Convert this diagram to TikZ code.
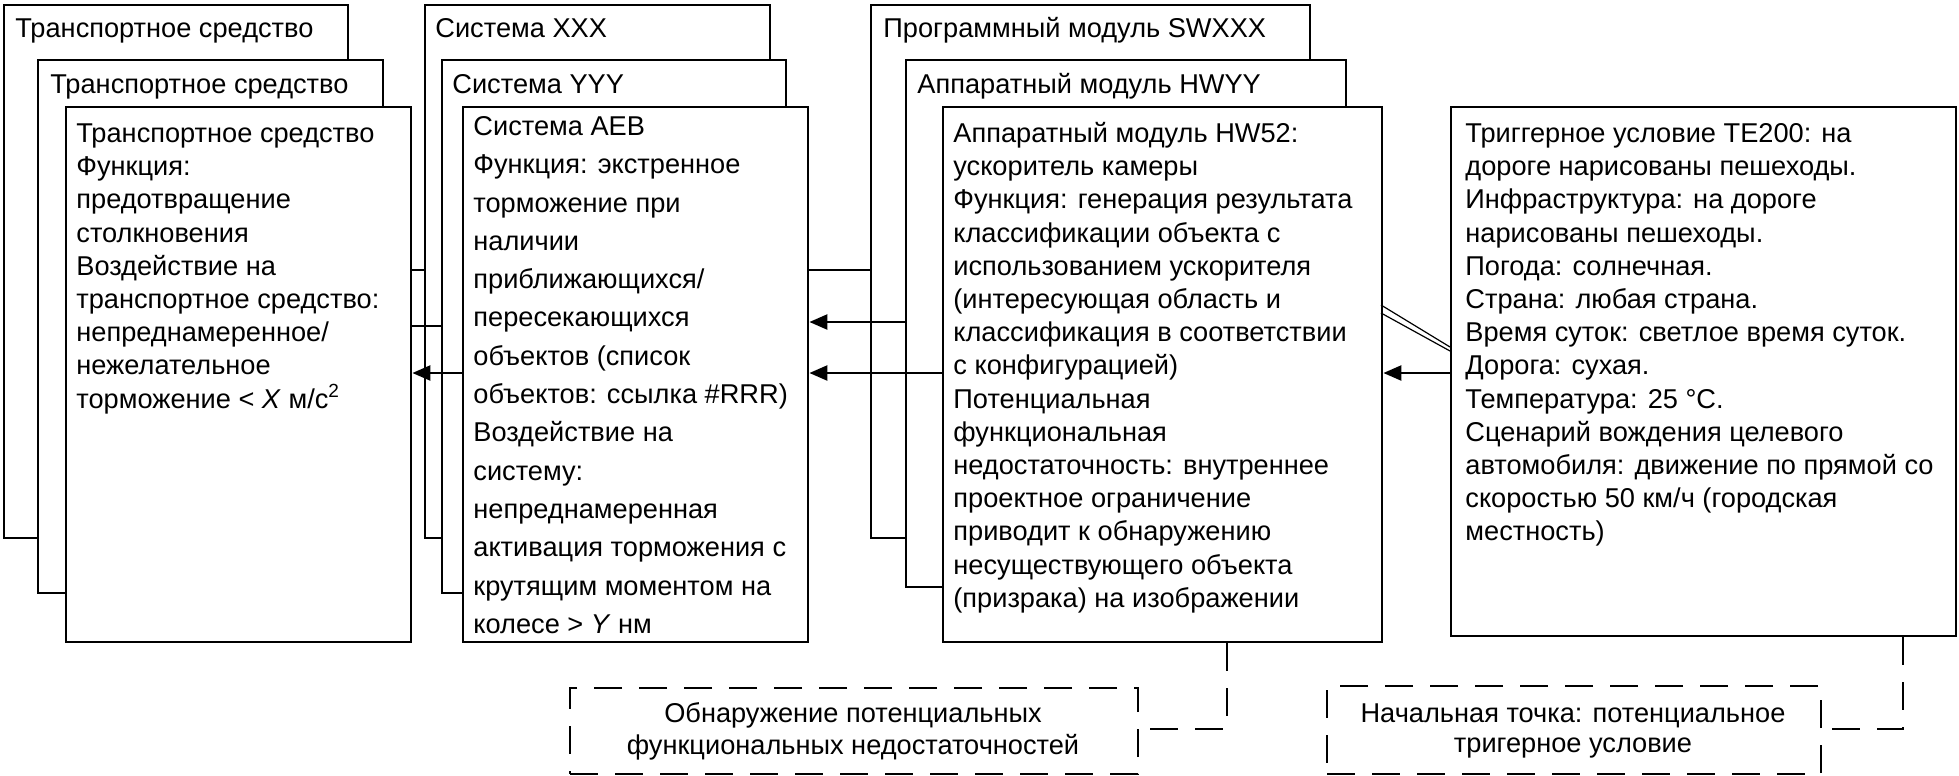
\documentclass[tikz,border=0pt]{standalone}
\usepackage{fontspec}
\setmainfont{Liberation Sans}
\usetikzlibrary{arrows.meta}
\begin{document}
\begin{tikzpicture}[x=0.5pt,y=-0.5pt,
  box/.style={draw, fill=white, line width=1.2pt, inner sep=0pt, anchor=north west},
  dbox/.style={draw, line width=1.2pt, inner sep=0pt, anchor=north west, dash pattern=on 14pt off 8.5pt},
  ttl/.style={anchor=base west, inner sep=0pt, font=\fontsize{13.6}{16.6}\selectfont},
  body/.style={anchor=north west, inner sep=0pt, align=left, font=\fontsize{13.6}{16.6}\selectfont},
  bodywide/.style={anchor=north west, inner sep=0pt, align=left, font=\fontsize{13.6}{19.15}\selectfont},
  note/.style={anchor=north, inner sep=0pt, align=center, font=\fontsize{13.6}{16}\selectfont},
  conn/.style={line width=1.2pt},
  arr/.style={line width=1.2pt, -{Triangle[length=9pt,width=7.5pt]}},
  dconn/.style={line width=1.2pt, dash pattern=on 14pt off 8.5pt},
  thin/.style={line width=0.6pt}]
\useasboundingbox (0,0) rectangle (1959,776);
\newcommand{\stu}{\rule{0pt}{12pt}}
% column 1
\node[box, minimum width=172pt, minimum height=266.5pt] (c1back) at (3,4) {};
\node[ttl] (c1backt) at (15,38) {Транспортное средство};
\node[box, minimum width=172.5pt, minimum height=266.5pt] (c1mid) at (37,59) {};
\node[ttl] (c1midt) at (50,93) {Транспортное средство};
\node[box, minimum width=172.5pt, minimum height=267.5pt] (c1front) at (65,106) {};
\node[body] (c1text) at (76,118) {\stu Транспортное средство\\Функция:\\предотвращение\\столкновения\\Воздействие на\\транспортное средство:\\непреднамеренное/\\нежелательное\\торможение < \textit{X} м/с\textsuperscript{2}};
% column 2
\node[box, minimum width=172.5pt, minimum height=266.5pt] (c2back) at (424,4) {};
\node[ttl] (c2backt) at (435,38) {Система XXX};
\node[box, minimum width=172pt, minimum height=266.5pt] (c2mid) at (441,59) {};
\node[ttl] (c2midt) at (452,93) {Система YYY};
\node[box, minimum width=172.5pt, minimum height=267.5pt] (c2front) at (462,106) {};
\node[bodywide] (c2text) at (473,111) {\stu Система AEB\\Функция: экстренное\\торможение при\\наличии\\приближающихся/\\пересекающихся\\объектов (список\\объектов: ссылка \#RRR)\\Воздействие на\\систему:\\непреднамеренная\\активация торможения с\\крутящим моментом на\\колесе > \textit{Y} нм};
% column 3
\node[box, minimum width=219.5pt, minimum height=266.5pt] (c3back) at (870,4) {};
\node[ttl] (c3backt) at (883,38) {Программный модуль SWXXX};
\node[box, minimum width=220pt, minimum height=263.5pt] (c3mid) at (905,59) {};
\node[ttl] (c3midt) at (917,93) {Аппаратный модуль HWYY};
\node[box, minimum width=219.5pt, minimum height=267.5pt] (c3front) at (942,106) {};
\node[body] (c3text) at (953,118) {\stu Аппаратный модуль HW52:\\ускоритель камеры\\Функция: генерация результата\\классификации объекта с\\использованием ускорителя\\(интересующая область и\\классификация в соответствии\\с конфигурацией)\\Потенциальная\\функциональная\\недостаточность: внутреннее\\проектное ограничение\\приводит к обнаружению\\несуществующего объекта\\(призрака) на изображении};
% column 4
\node[box, minimum width=252.5pt, minimum height=264.5pt] (trig) at (1450,106) {};
\node[body] (trigtext) at (1465,118) {\stu Триггерное условие TE200: на\\дороге нарисованы пешеходы.\\Инфраструктура: на дороге\\нарисованы пешеходы.\\Погода: солнечная.\\Страна: любая страна.\\Время суток: светлое время суток.\\Дорога: сухая.\\Температура: 25 °C.\\Сценарий вождения целевого\\автомобиля: движение по прямой со\\скоростью 50 км/ч (городская\\местность)};
% dashed boxes
\node[dbox, minimum width=284pt, minimum height=43pt] (det) at (569,687) {};
\node[note] (dett) at (853,698) {\stu Обнаружение потенциальных\\функциональных недостаточностей};
\node[dbox, minimum width=247pt, minimum height=44pt] (start) at (1326,685) {};
\node[note, font=\fontsize{13.6}{15}\selectfont] (startt) at (1573,698) {\stu Начальная точка: потенциальное\\тригерное условие};
% level coordinates
\coordinate (y270) at (0,270);
\coordinate (y322) at (0,322);
\coordinate (y326) at (0,326);
\coordinate (y373) at (0,373);
\coordinate (y729) at (0,729);
\coordinate (x1227) at (1227,0);
\coordinate (x1903) at (1903,0);
% connectors col1-col2
\draw[conn] (c2back.west |- y270) -- (c1front.east |- y270);
\draw[conn] (c2mid.west |- y326) -- (c1front.east |- y326);
\draw[arr] (c2front.west |- y373) -- (c1front.east |- y373);
% connectors col2-col3
\draw[conn] (c3back.west |- y270) -- (c2front.east |- y270);
\draw[arr] (c3mid.west |- y322) -- (c2front.east |- y322);
\draw[arr] (c3front.west |- y373) -- (c2front.east |- y373);
% connectors col3-col4
\draw[arr] (trig.west |- y373) -- (c3front.east |- y373);
\coordinate (d1a) at (1381,305);
\coordinate (d1b) at (1450,347);
\coordinate (d2a) at (1381,313);
\coordinate (d2b) at (1450,351);
\draw[thin] (d1a) -- (d1b);
\draw[thin] (d2a) -- (d2b);
% dashed connectors
\draw[dconn] (x1227 |- c3front.south) -- (x1227 |- y729) -- (det.east |- y729);
\draw[dconn] (x1903 |- trig.south) -- (x1903 |- y729) -- (start.east |- y729);
\end{tikzpicture}
\end{document}
